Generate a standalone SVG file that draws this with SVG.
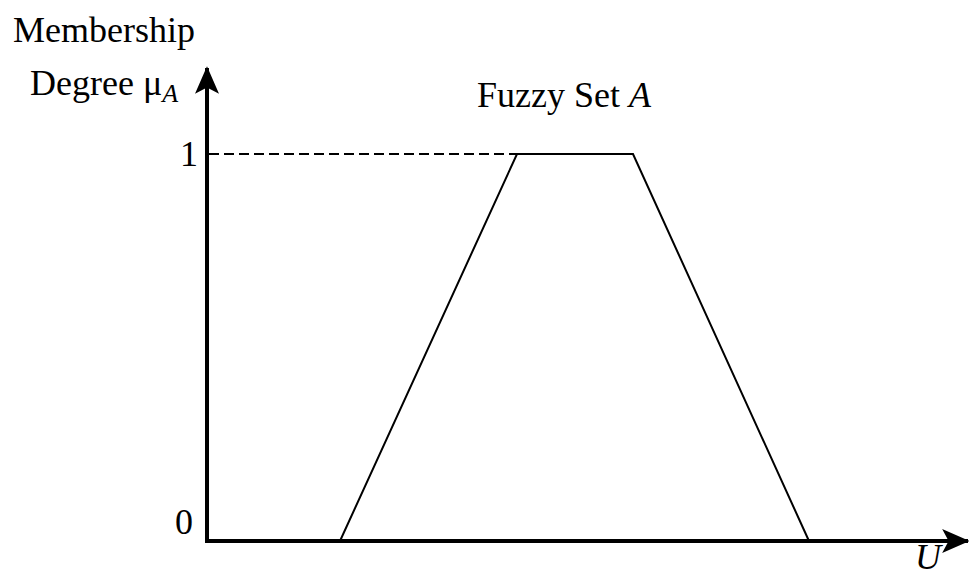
<svg xmlns="http://www.w3.org/2000/svg" width="969" height="576" viewBox="0 0 969 576">
<style>
text{font-family:"Liberation Serif","Times New Roman",serif;font-size:36px;fill:#000}
.it{font-style:italic}
.ax{stroke:#000;stroke-width:4;fill:none}
.ln{stroke:#000;stroke-width:2;fill:none}
</style>
<defs>
<marker id="ah" viewBox="0 0 30 26" refX="28" refY="13" markerWidth="28" markerHeight="24" markerUnits="userSpaceOnUse" orient="auto">
<path d="M0,0 L30,13 L0,26 L7,13 Z" fill="#000"/>
</marker>
</defs>
<rect width="969" height="576" fill="#fff"/>
<g id="labels">
<text x="13" y="42">Membership</text>
<text x="30" y="95">Degree μ<tspan class="it" font-size="26" dy="7">A</tspan></text>
<text x="477" y="107">Fuzzy Set <tspan class="it">A</tspan></text>
<text x="180" y="166">1</text>
<text x="175" y="534">0</text>
<text class="it" x="915" y="569" font-size="31">U</text>
</g>
<g id="connectors">
<line class="ax" x1="207" y1="543" x2="207" y2="68" marker-end="url(#ah)"/>
<line class="ax" x1="205" y1="541" x2="968" y2="541" marker-end="url(#ah)"/>
<line class="ln" x1="209" y1="154" x2="517" y2="154" stroke-dasharray="10 5" stroke-width="2.5"/>
<polyline id="trapezoid" class="ln" points="340,541 517,154 633,154 809,541"/>
</g>
</svg>
